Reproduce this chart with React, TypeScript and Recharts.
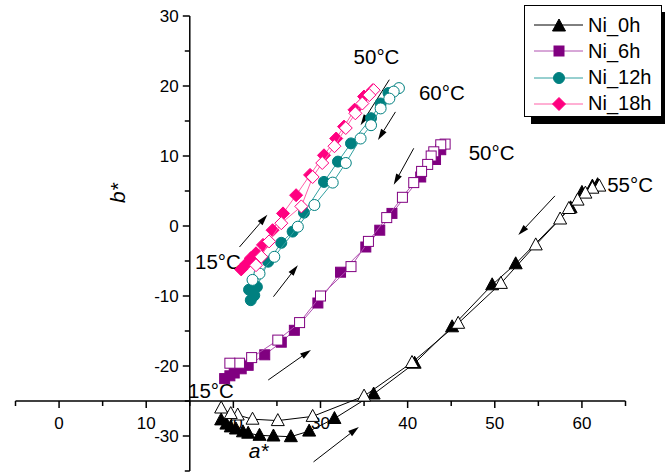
import React from 'react';
import { ScatterChart, Scatter, XAxis, YAxis, ReferenceLine, ReferenceDot } from 'recharts';

// a*, b*; "up" = filled markers, "down" = open markers
const ni0hUp = [
  { a: 18.6, b: -27.7 }, { a: 19.2, b: -28.3 }, { a: 19.7, b: -28.7 }, { a: 20.3, b: -29.0 },
  { a: 21.1, b: -29.4 }, { a: 21.7, b: -29.6 }, { a: 23.0, b: -29.9 }, { a: 24.6, b: -30.0 },
  { a: 26.6, b: -30.1 }, { a: 28.7, b: -29.3 }, { a: 31.6, b: -27.5 }, { a: 36.1, b: -24.0 },
  { a: 40.8, b: -19.6 }, { a: 45.1, b: -14.4 }, { a: 49.7, b: -8.4 }, { a: 52.4, b: -5.4 },
  { a: 58.7, b: 2.6 }, { a: 60.0, b: 4.8 }, { a: 61.2, b: 5.7 }, { a: 61.8, b: 5.9 },
];
const ni0hDown = [
  { a: 62.0, b: 5.7 }, { a: 61.2, b: 5.4 }, { a: 60.4, b: 4.7 }, { a: 59.5, b: 3.7 },
  { a: 58.5, b: 2.5 }, { a: 57.5, b: 1.0 }, { a: 54.7, b: -2.7 }, { a: 50.7, b: -8.2 },
  { a: 45.8, b: -13.9 }, { a: 40.5, b: -19.5 }, { a: 35.0, b: -24.3 }, { a: 29.1, b: -27.2 },
  { a: 25.1, b: -27.8 }, { a: 22.2, b: -27.6 }, { a: 20.5, b: -27.0 }, { a: 19.7, b: -26.8 },
  { a: 18.6, b: -26.0 },
];
const ni6hUp = [
  { a: 19.0, b: -21.8 }, { a: 19.6, b: -21.4 }, { a: 20.1, b: -21.0 }, { a: 20.9, b: -20.4 },
  { a: 21.7, b: -19.9 }, { a: 23.6, b: -18.4 }, { a: 25.5, b: -16.6 }, { a: 27.0, b: -14.9 },
  { a: 29.7, b: -11.0 }, { a: 32.3, b: -6.6 }, { a: 35.2, b: -3.0 }, { a: 36.8, b: -0.6 },
  { a: 38.2, b: 1.8 }, { a: 41.5, b: 7.0 }, { a: 43.2, b: 9.5 }, { a: 43.8, b: 10.9 },
];
const ni6hDown = [
  { a: 44.3, b: 11.7 }, { a: 43.8, b: 11.6 }, { a: 43.0, b: 10.6 }, { a: 42.7, b: 10.0 },
  { a: 42.3, b: 8.8 }, { a: 41.6, b: 7.8 }, { a: 40.7, b: 6.2 }, { a: 39.4, b: 4.1 },
  { a: 37.6, b: 1.2 }, { a: 35.5, b: -2.2 }, { a: 33.5, b: -5.8 }, { a: 30.0, b: -10.0 },
  { a: 27.6, b: -13.8 }, { a: 25.1, b: -16.3 }, { a: 22.1, b: -18.8 }, { a: 20.7, b: -19.6 },
  { a: 19.6, b: -19.6 },
];
const ni12hUp = [
  { a: 22.0, b: -10.6 }, { a: 22.4, b: -9.9 }, { a: 21.8, b: -9.1 }, { a: 22.7, b: -8.7 },
  { a: 24.0, b: -5.1 }, { a: 25.5, b: -2.4 }, { a: 26.8, b: -0.8 }, { a: 28.1, b: 1.9 },
  { a: 30.4, b: 6.3 }, { a: 32.0, b: 9.2 }, { a: 33.5, b: 11.8 }, { a: 35.8, b: 15.4 },
  { a: 36.9, b: 17.5 }, { a: 37.8, b: 19.0 },
];
const ni12hDown = [
  { a: 39.0, b: 19.7 }, { a: 38.4, b: 19.2 }, { a: 37.9, b: 18.2 }, { a: 36.9, b: 16.8 },
  { a: 35.8, b: 14.4 }, { a: 34.6, b: 12.5 }, { a: 32.9, b: 9.0 }, { a: 31.4, b: 6.2 },
  { a: 29.3, b: 3.0 }, { a: 27.4, b: -0.1 }, { a: 24.7, b: -4.4 }, { a: 23.0, b: -6.8 },
  { a: 22.2, b: -7.7 },
];
const ni18hUp = [
  { a: 20.9, b: -6.2 }, { a: 21.5, b: -5.4 }, { a: 22.0, b: -4.6 }, { a: 22.6, b: -3.9 },
  { a: 23.4, b: -2.7 }, { a: 24.5, b: -0.6 }, { a: 25.7, b: 1.8 }, { a: 27.2, b: 4.4 },
  { a: 28.8, b: 7.3 }, { a: 30.4, b: 10.1 }, { a: 31.8, b: 12.5 }, { a: 32.7, b: 14.2 },
  { a: 33.9, b: 16.6 }, { a: 35.0, b: 18.5 }, { a: 36.0, b: 19.4 },
];
const ni18hDown = [
  { a: 36.1, b: 19.4 }, { a: 35.6, b: 18.7 }, { a: 34.8, b: 17.5 }, { a: 34.0, b: 16.1 },
  { a: 32.9, b: 14.0 }, { a: 31.6, b: 11.4 }, { a: 30.2, b: 9.0 }, { a: 29.1, b: 7.0 },
  { a: 27.8, b: 2.8 }, { a: 25.5, b: 0.4 }, { a: 24.1, b: -2.2 }, { a: 23.2, b: -4.4 },
  { a: 22.6, b: -5.6 },
];

const xTicks = [-5, 0, 5, 10, 15, 20, 25, 30, 35, 40, 45, 50, 55, 60, 65];
const yTicks = [-35, -30, -25, -20, -15, -10, -5, 0, 5, 10, 15, 20, 25, 30];
const xLabels = [0, 10, 20, 30, 40, 50, 60];
const yLabels = [-30, -20, -10, 0, 10, 20, 30];

const tempNotes = [
  { a: 33.8, b: 24.1, text: '50°C' },
  { a: 41.3, b: 19.0, text: '60°C' },
  { a: 47.0, b: 10.4, text: '50°C' },
  { a: 62.9, b: 5.9, text: '55°C' },
  { a: 15.6, b: -5.1, text: '15°C' },
  { a: 14.8, b: -23.6, text: '15°C' },
];

const arrows = [
  { a1: 37.9, b1: 20.9, a2: 34.6, b2: 14.4 },
  { a1: 38.6, b1: 16.3, a2: 36.6, b2: 12.3 },
  { a1: 40.7, b1: 11.1, a2: 38.4, b2: 5.9 },
  { a1: 20.7, b1: -3.0, a2: 23.9, b2: 1.6 },
  { a1: 24.6, b1: -10.1, a2: 27.4, b2: -5.6 },
  { a1: 24.0, b1: -22.0, a2: 28.9, b2: -17.7 },
  { a1: 29.2, b1: -33.7, a2: 34.4, b2: -28.7 },
  { a1: 56.9, b1: 4.3, a2: 52.7, b2: -1.3 },
];

const FONT = '"Liberation Sans", Arial, sans-serif';

type Kind = 'triangle' | 'square' | 'circle' | 'diamond';

function marker(kind: Kind, cx: number, cy: number, fill: string, stroke: string) {
  if (kind === 'triangle')
    return <polygon points={`${cx},${cy - 7} ${cx - 6.5},${cy + 5} ${cx + 6.5},${cy + 5}`} fill={fill} stroke={stroke} strokeWidth={1} />;
  if (kind === 'square')
    return <rect x={cx - 5} y={cy - 5} width={10} height={10} fill={fill} stroke={stroke} strokeWidth={1} />;
  if (kind === 'circle')
    return <circle cx={cx} cy={cy} r={5.5} fill={fill} stroke={stroke} strokeWidth={1} />;
  return <polygon points={`${cx},${cy - 6.5} ${cx + 6.5},${cy} ${cx},${cy + 6.5} ${cx - 6.5},${cy}`} fill={fill} stroke={stroke} strokeWidth={1} />;
}

const series = [
  { name: 'Ni_0h', up: ni0hUp, down: ni0hDown, kind: 'triangle' as Kind, color: '#000000', line: '#000000' },
  { name: 'Ni_6h', up: ni6hUp, down: ni6hDown, kind: 'square' as Kind, color: '#800080', line: '#b050b0' },
  { name: 'Ni_12h', up: ni12hUp, down: ni12hDown, kind: 'circle' as Kind, color: '#008080', line: '#30a0a0' },
  { name: 'Ni_18h', up: ni18hUp, down: ni18hDown, kind: 'diamond' as Kind, color: '#ff0080', line: '#ff60a8' },
];

const Arrow = (p: any) => {
  const { x1, y1, x2, y2 } = p;
  const ang = Math.atan2(y2 - y1, x2 - x1);
  const len = 11;
  const w = 3.2;
  const bx = x2 - len * Math.cos(ang);
  const by = y2 - len * Math.sin(ang);
  const nx = -Math.sin(ang) * w;
  const ny = Math.cos(ang) * w;
  return (
    <g>
      <line x1={x1} y1={y1} x2={bx} y2={by} stroke="#000" strokeWidth={1} />
      <polygon points={`${x2},${y2} ${bx + nx},${by + ny} ${bx - nx},${by - ny}`} fill="#000" />
    </g>
  );
};

function Legend() {
  return (
    <div
      style={{
        position: 'absolute', left: 524, top: 5, width: 136, height: 110,
        border: '1px solid #000', background: '#fff', boxShadow: '7px 7px 0 #000',
        fontFamily: FONT, fontSize: 20,
      }}
    >
      {series.map((s, i) => (
        <div key={s.name} style={{ position: 'absolute', left: 0, top: 7 + i * 26.3, height: 24, display: 'flex', alignItems: 'center' }}>
          <svg width={62} height={24}>
            <line x1={9} y1={12} x2={58} y2={12} stroke={s.line} strokeWidth={1} />
            {marker(s.kind, 34, s.kind === 'triangle' ? 13 : 12, s.color, s.color)}
          </svg>
          <span style={{ marginLeft: 1 }}>{s.name}</span>
        </div>
      ))}
    </div>
  );
}

export default function App() {
  return (
    <div style={{ position: 'absolute', left: 0, top: 0, width: 665, height: 472, background: '#fff', fontFamily: FONT }}>
      <ScatterChart width={665} height={472} margin={{ top: 16, right: 39.5, left: 15.5, bottom: 1 }}>
        <XAxis type="number" dataKey="a" domain={[-5, 65]} hide allowDataOverflow />
        <YAxis type="number" dataKey="b" domain={[-35, 30]} hide allowDataOverflow />

        <ReferenceLine x={15} stroke="#000" strokeWidth={1.5} ifOverflow="visible" />
        <ReferenceLine y={-25} stroke="#000" strokeWidth={1.5} ifOverflow="visible" />

        {xTicks.map((t) => (
          <ReferenceDot
            key={`xt${t}`}
            x={t}
            y={-25}
            r={0}
            ifOverflow="visible"
            shape={(p: any) => (
              <g>
                <line x1={p.cx} y1={p.cy} x2={p.cx} y2={p.cy + (t % 10 === 0 ? 7 : 5)} stroke="#000" strokeWidth={1.5} />
                {xLabels.includes(t) && (
                  <text x={p.cx} y={p.cy + 28} textAnchor="middle" fontSize={17} fontFamily={FONT} fill="#000">{t}</text>
                )}
              </g>
            )}
          />
        ))}
        {yTicks.map((t) => (
          <ReferenceDot
            key={`yt${t}`}
            x={15}
            y={t}
            r={0}
            ifOverflow="visible"
            shape={(p: any) => (
              <g>
                <line x1={p.cx} y1={p.cy} x2={p.cx - (t % 10 === 0 ? 7 : 5)} y2={p.cy} stroke="#000" strokeWidth={1.5} />
                {yLabels.includes(t) && (
                  <text x={p.cx - 11} y={p.cy + 6} textAnchor="end" fontSize={17} fontFamily={FONT} fill="#000">{t}</text>
                )}
              </g>
            )}
          />
        ))}

        {arrows.map((ar, i) => (
          <ReferenceLine
            key={`ar${i}`}
            segment={[{ x: ar.a1, y: ar.b1 }, { x: ar.a2, y: ar.b2 }]}
            ifOverflow="visible"
            shape={Arrow}
          />
        ))}

        {tempNotes.map((n, i) => (
          <ReferenceDot
            key={`tn${i}`}
            x={n.a}
            y={n.b}
            r={0}
            ifOverflow="visible"
            shape={(p: any) => (
              <text x={p.cx} y={p.cy + 7} textAnchor="start" fontSize={20.5} fontFamily={FONT} fill="#000">{n.text}</text>
            )}
          />
        ))}
        <ReferenceDot
          x={22.9}
          y={-32.1}
          r={0}
          ifOverflow="visible"
          shape={(p: any) => (
            <text x={p.cx} y={p.cy + 7} textAnchor="middle" fontSize={21} fontStyle="italic" fontFamily={FONT} fill="#000">a*</text>
          )}
        />
        <ReferenceDot
          x={6.8}
          y={4.7}
          r={0}
          ifOverflow="visible"
          shape={(p: any) => (
            <text x={p.cx} y={p.cy} transform={`rotate(-90 ${p.cx} ${p.cy})`} dy={7} textAnchor="middle" fontSize={21} fontStyle="italic" fontFamily={FONT} fill="#000">b*</text>
          )}
        />

        {series.map((s) => (
          <Scatter
            key={`${s.name}-up`}
            name={s.name}
            data={s.up}
            isAnimationActive={false}
            line={{ stroke: s.line, strokeWidth: 1 }}
            lineType="joint"
            shape={(p: any) => marker(s.kind, p.cx, p.cy, s.color, s.color)}
          />
        ))}
        {series.map((s) => (
          <Scatter
            key={`${s.name}-down`}
            name={`${s.name} cooling`}
            data={s.down}
            isAnimationActive={false}
            line={{ stroke: s.line, strokeWidth: 1 }}
            lineType="joint"
            shape={(p: any) => marker(s.kind, p.cx, p.cy, '#ffffff', s.color)}
          />
        ))}
      </ScatterChart>
      <Legend />
    </div>
  );
}
